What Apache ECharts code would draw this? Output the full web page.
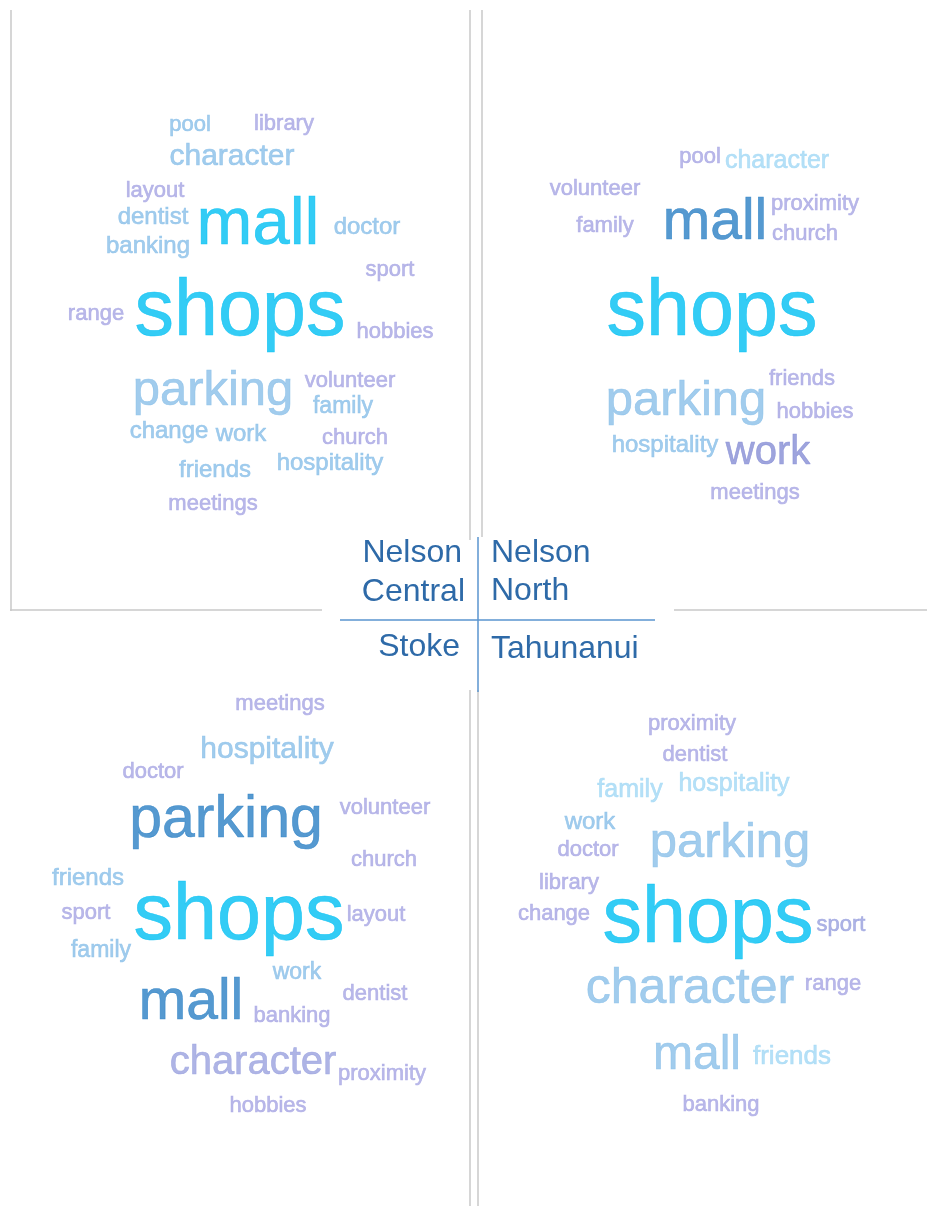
<!DOCTYPE html>
<html>
<head>
<meta charset="utf-8">
<script src="https://cdn.jsdelivr.net/npm/echarts@6/dist/echarts.min.js"></script>
<style>
  html, body { margin: 0; padding: 0; background: #fff; }
  #chart { width: 927px; height: 1206px; }
</style>
</head>
<body>
<div id="chart"></div>
<script>
// word lists per area, weight = relative frequency (drawn as font size)
const ncWords = ['shops', 'mall', 'parking', 'character', 'pool', 'library', 'layout', 'dentist', 'banking', 'doctor', 'sport', 'range', 'hobbies', 'volunteer', 'family', 'change', 'work', 'church', 'hospitality', 'friends', 'meetings']
const ncWeights = [79, 67, 49, 30, 22, 22, 22, 24, 24, 24, 22, 22, 22, 22, 23, 24, 24, 22, 24, 24, 22]

const nnWords = ['shops', 'mall', 'parking', 'work', 'character', 'hospitality', 'pool', 'volunteer', 'proximity', 'family', 'church', 'friends', 'hobbies', 'meetings']
const nnWeights = [79, 57, 49, 40, 25, 24, 22, 22, 22, 22, 22, 22, 22, 22]

const stWords = ['shops', 'parking', 'mall', 'character', 'hospitality', 'meetings', 'doctor', 'volunteer', 'church', 'friends', 'sport', 'layout', 'family', 'work', 'dentist', 'banking', 'proximity', 'hobbies']
const stWeights = [79, 59, 57, 40, 30, 22, 22, 22, 22, 24, 22, 22, 23, 23, 22, 22, 22, 22]

const taWords = ['shops', 'character', 'parking', 'mall', 'friends', 'hospitality', 'family', 'work', 'proximity', 'dentist', 'doctor', 'library', 'change', 'sport', 'range', 'banking']
const taWeights = [79, 50, 49, 48, 26, 25, 25, 24, 22, 22, 22, 22, 22, 22, 22, 22]

const areaNames = ['Nelson Central', 'Nelson North', 'Stoke', 'Tahunanui']

// cloud layout (where each word landed), same order as the word lists
const ncLayout = [[240, 313], [258, 226], [213, 391], [232, 157], [190, 125], [284, 124], [155, 191], [153, 217], [148, 246], [367, 227], [390, 270], [96, 314], [395, 332], [350, 381], [343, 407], [169, 431], [241, 434], [355, 438], [330, 463], [215, 470], [213, 504]]
const nnLayout = [[712, 313], [715, 223], [686, 401], [768, 453], [777, 161], [665, 445], [700, 157], [595, 189], [815, 204], [605, 226], [805, 234], [802, 379], [815, 412], [755, 493]]
const stLayout = [[239, 917], [226, 821], [191, 1003], [253, 1063], [267, 750], [280, 704], [153, 772], [385, 808], [384, 860], [88, 878], [86, 913], [376, 915], [101, 951], [297, 973], [375, 994], [292, 1016], [382, 1074], [268, 1106]]
const taLayout = [[708, 920], [690, 989], [730, 843], [697, 1056], [792, 1057], [734, 784], [630, 790], [590, 822], [692, 724], [695, 755], [588, 850], [569, 883], [554, 914], [841, 925], [833, 984], [721, 1105]]

// colours
const tones = {
  cyan: '#00bff2',
  deep: '#2a7fc4',
  sky: '#89bfe9',
  pale: '#a2d8f5',
  lav: '#a7a6e3',
  violet: '#868dd5',
  peri: '#9aa1df',
}
const ncTone = { shops: 'cyan', mall: 'cyan', library: 'lav', layout: 'lav', sport: 'lav', range: 'lav', hobbies: 'lav', volunteer: 'lav', church: 'lav', meetings: 'lav' }
const nnTone = { shops: 'cyan', mall: 'deep', parking: 'sky', work: 'violet', character: 'pale', hospitality: 'sky' }
const stTone = { shops: 'cyan', parking: 'deep', mall: 'deep', character: 'peri', hospitality: 'sky', friends: 'sky', family: 'sky', work: 'sky' }
const taTone = { shops: 'cyan', character: 'sky', parking: 'sky', mall: 'sky', friends: 'pale', hospitality: 'pale', family: 'pale', work: 'sky', sport: 'peri' }

const fontFamily = '"Liberation Sans", Arial, sans-serif'

const makeSeries = (name, words, weights, layout, toneMap, fallback) => ({
  name,
  type: 'scatter',
  symbolSize: 0,
  silent: true,
  data: words.map((w, i) => {
    const color = tones[toneMap[w] || fallback]
    return {
      name: w,
      value: [layout[i][0], layout[i][1], weights[i]],
      label: {
        color,
        fontSize: weights[i],
        textBorderColor: color,
        textBorderWidth: 0.6,
      },
    }
  }),
  label: {
    show: true,
    position: 'inside',
    formatter: p => p.name,
    fontFamily,
    align: 'center',
    verticalAlign: 'middle',
  },
})

const chart = echarts.init(document.getElementById('chart'))

const gray = '#c9c9c9'
const blue = '#5a95cf'
const line = (x1, y1, x2, y2, color) => ({
  type: 'line',
  shape: { x1, y1, x2, y2 },
  style: { stroke: color, lineWidth: 1.5 },
  silent: true,
})
const tag = (text, x, y, align) => ({
  type: 'text',
  x,
  y,
  style: {
    text,
    fill: '#2e6aa8',
    fontSize: 32,
    fontFamily,
    align,
    verticalAlign: 'middle',
  },
})

const option = {
  animation: false,
  grid: { left: 0, right: 0, top: 0, bottom: 0 },
  xAxis: { type: 'value', min: 0, max: 927, show: false },
  yAxis: { type: 'value', min: 0, max: 1206, inverse: true, show: false },
  series: [
    makeSeries(areaNames[0], ncWords, ncWeights, ncLayout, ncTone, 'sky'),
    makeSeries(areaNames[1], nnWords, nnWeights, nnLayout, nnTone, 'lav'),
    makeSeries(areaNames[2], stWords, stWeights, stLayout, stTone, 'lav'),
    makeSeries(areaNames[3], taWords, taWeights, taLayout, taTone, 'lav'),
  ],
  graphic: [
    // panel frames
    line(11, 10, 11, 611, gray),
    line(470, 10, 470, 540, gray),
    line(482, 10, 482, 537, gray),
    line(10, 610, 322, 610, gray),
    line(674, 610, 927, 610, gray),
    line(470, 690, 470, 1206, gray),
    line(478, 690, 478, 1206, gray),
    // area key
    line(478, 537, 478, 692, blue),
    line(340, 620, 655, 620, blue),
    tag('Nelson', 462, 553, 'right'),
    tag('Central', 465, 592, 'right'),
    tag('Nelson', 491, 553, 'left'),
    tag('North', 491, 591, 'left'),
    tag('Stoke', 460, 647, 'right'),
    tag('Tahunanui', 491, 649, 'left'),
  ],
}

chart.setOption(option)
</script>
</body>
</html>
